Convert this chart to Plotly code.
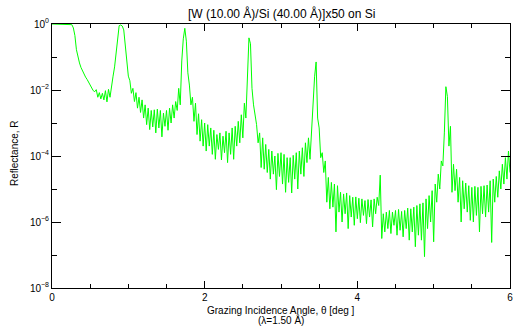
import numpy as np
import plotly.graph_objects as go

# Reflectance curve of a [W/Si]x50 multilayer, stored as log10(R) sampled every 0.02 deg
theta_step = 0.02
log_reflectance = [
    0.00, 0.00, 0.00, 0.00, 0.00, 0.00, 0.00, 0.00, 0.00, 0.00,
    0.00, 0.00, 0.00, -0.02, -0.12, -0.35, -0.78, -1.02, -1.18, -1.32,
    -1.43, -1.52, -1.61, -1.68, -1.76, -1.84, -1.95, -2.02, -2.05, -1.99,
    -2.22, -2.08, -2.27, -2.10, -2.30, -2.02, -2.36, -1.98, -2.22, -1.85,
    -1.58, -1.30, -0.85, -0.32, -0.05, -0.03, -0.06, -0.18, -0.62, -1.12,
    -1.58, -1.72, -2.10, -1.95, -2.35, -2.08, -2.55, -2.22, -2.68, -2.30,
    -2.85, -2.45, -3.05, -2.55, -3.20, -2.62, -3.12, -2.60, -3.30, -2.58,
    -3.15, -2.62, -3.42, -2.70, -3.10, -2.62, -3.22, -2.55, -3.00, -2.45,
    -2.85, -2.35, -2.62, -1.95, -2.45, -1.12, -0.45, -0.13, -0.52, -1.48,
    -1.85, -2.45, -2.22, -2.95, -2.40, -3.35, -2.72, -3.55, -2.90, -3.70,
    -3.00, -3.85, -3.05, -3.70, -3.15, -3.95, -3.22, -4.10, -3.35, -3.80,
    -3.30, -4.12, -3.40, -3.90, -3.25, -4.20, -3.30, -3.95, -3.15, -4.10,
    -3.10, -3.70, -2.95, -3.60, -2.75, -3.45, -2.40, -2.85, -1.45, -0.42,
    -0.60, -1.95, -2.45, -2.80, -3.05, -3.60, -3.30, -4.35, -3.45, -4.40,
    -3.65, -4.50, -3.80, -4.70, -3.85, -4.55, -4.00, -5.02, -3.92, -4.62,
    -3.90, -4.85, -3.95, -5.10, -4.05, -4.80, -4.05, -5.12, -3.98, -4.70,
    -3.90, -5.00, -3.85, -4.55, -3.75, -4.62, -3.60, -4.20, -3.45, -4.10,
    -3.25, -2.60, -1.60, -1.15, -2.85, -3.15, -4.05, -3.90, -4.50, -4.15,
    -5.40, -4.65, -5.60, -4.80, -5.55, -4.85, -6.30, -4.90, -5.70, -5.10,
    -6.00, -5.15, -5.75, -5.12, -6.20, -5.20, -5.85, -5.25, -6.10, -5.24,
    -5.90, -5.28, -6.02, -5.30, -5.80, -5.35, -6.05, -5.32, -5.85, -5.33,
    -6.15, -5.30, -5.75, -5.25, -5.50, -4.58, -6.50, -5.75, -6.30, -5.70,
    -6.20, -5.65, -6.35, -5.70, -6.10, -5.65, -6.40, -5.62, -6.25, -5.68,
    -6.45, -5.65, -6.20, -5.58, -6.55, -5.60, -6.30, -5.55, -6.75, -5.50,
    -6.40, -5.45, -6.55, -5.42, -7.05, -5.30, -6.20, -5.20, -6.00, -5.05,
    -6.60, -4.85, -5.40, -4.55, -5.00, -4.15, -4.30, -3.30, -1.90, -2.20,
    -3.70, -3.10, -5.10, -4.25, -5.05, -4.40, -5.40, -4.65, -6.00, -4.75,
    -5.60, -4.82, -5.70, -4.90, -5.95, -4.95, -6.00, -4.92, -5.80, -4.95,
    -6.30, -4.92, -5.75, -4.90, -5.85, -4.88, -5.70, -4.75, -6.62, -4.70,
    -5.40, -4.62, -5.25, -4.45, -5.00, -4.25, -4.85, -4.05, -4.70, -3.85,
    -4.50,
]

theta = np.round(np.arange(len(log_reflectance)) * theta_step, 2)
reflectance = 10.0 ** np.array(log_reflectance)

x_tick_vals = [0, 2, 4, 6]
x_tick_text = ["0", "2", "4", "6"]
y_tick_exponents = [0, -2, -4, -6, -8]
y_minor_exponents = [-1, -3, -5, -7]
y_tick_text = ["10<sup>0</sup>", "10<sup>−2</sup>", "10<sup>−4</sup>",
               "10<sup>−6</sup>", "10<sup>−8</sup>"]

title_text = "[W (10.00 Å)/Si (40.00 Å)]x50 on Si"
x_title = "Grazing Incidence Angle, θ [deg ]"
x_subtitle = "(λ=1.50 Å)"
y_title = "Reflectance, R"

FONT = "Liberation Sans, Arial, Helvetica, sans-serif"

fig = go.Figure()
fig.add_trace(go.Scatter(
    x=theta, y=reflectance, mode="lines",
    line=dict(color="#00ff00", width=1),
    showlegend=False, hoverinfo="skip",
))

axis_common = dict(
    showline=True, linecolor="black", linewidth=1, mirror="ticks",
    ticks="inside", tickcolor="black", tickwidth=1,
    showgrid=False, zeroline=False,
    tickfont=dict(family=FONT, size=10, color="black"),
    ticklabeloverflow="allow",
)

fig.update_xaxes(
    range=[0, 6], tickmode="array", tickvals=x_tick_vals, ticktext=x_tick_text,
    ticklen=7,
    minor=dict(dtick=0.5, tick0=0, ticks="inside", ticklen=4, tickcolor="black"),
    **axis_common,
)
fig.update_yaxes(
    type="log", range=[-8, 0], tickmode="array",
    tickvals=[10.0 ** e for e in y_tick_exponents], ticktext=y_tick_text,
    ticklen=9,
    minor=dict(tickmode="array", tickvals=[10.0 ** e for e in y_minor_exponents],
               ticks="inside", ticklen=5, tickcolor="black"),
    **axis_common,
)

annotations = [
    dict(text=title_text, x=0.5, y=1, xref="paper", yref="paper",
         xanchor="center", yanchor="middle", yshift=11, showarrow=False,
         font=dict(family=FONT, size=12, color="black")),
    dict(text=x_title, x=0.5, y=0, xref="paper", yref="paper",
         xanchor="center", yanchor="middle", yshift=-22.5, showarrow=False,
         font=dict(family=FONT, size=10, color="black")),
    dict(text=x_subtitle, x=0.5, y=0, xref="paper", yref="paper",
         xanchor="center", yanchor="middle", yshift=-32, showarrow=False,
         font=dict(family=FONT, size=10, color="black")),
    dict(text=y_title, x=0, y=0.5, xref="paper", yref="paper",
         xanchor="center", yanchor="middle", xshift=-38, yshift=3,
         textangle=-90, showarrow=False,
         font=dict(family=FONT, size=10, color="black")),
]

fig.update_layout(
    width=516, height=326,
    margin=dict(l=52, r=3, t=24, b=38),
    paper_bgcolor="white", plot_bgcolor="white",
    annotations=annotations,
    font=dict(family=FONT, color="black"),
)

fig.write_html("out.html")
